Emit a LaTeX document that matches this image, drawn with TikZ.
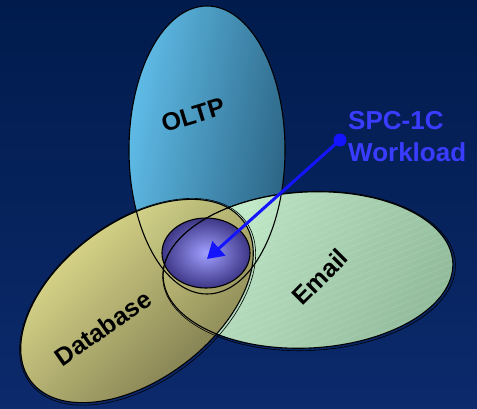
\documentclass[tikz,border=0pt]{standalone}
\usepackage{fontspec}
\setmainfont{Liberation Sans}
\usetikzlibrary{arrows.meta,patterns.meta}
\definecolor{bgtop}{RGB}{0,27,76}
\definecolor{bgbot}{RGB}{12,42,108}
\definecolor{oltpL}{RGB}{105,205,248}
\definecolor{oltpR}{RGB}{46,104,134}
\definecolor{mailL}{RGB}{212,250,212}
\definecolor{mailR}{RGB}{158,202,162}
\definecolor{dbL}{RGB}{245,240,150}
\definecolor{dbR}{RGB}{124,119,72}
\definecolor{sphIn}{RGB}{160,160,255}
\definecolor{sphOut}{RGB}{62,55,135}
\definecolor{arrowblue}{RGB}{20,20,255}
\definecolor{labelblue}{RGB}{58,60,255}
\tikzset{
  outline/.style={draw=black, line width=1.1pt},
  thinline/.style={draw=black, line width=0.6pt},
  lbl/.style={font=\fontsize{25}{30}\selectfont\bfseries, text=black, inner sep=0pt},
  spclbl/.style={font=\fontsize{26}{32}\selectfont\bfseries, text=labelblue, inner sep=0pt, anchor=base west},
  pointer/.style={draw=arrowblue, line width=3pt, -{Triangle[length=16pt,width=19pt]}},
  dotnode/.style={circle, fill=arrowblue, minimum size=13pt, inner sep=0pt},
}
\begin{document}
\begin{tikzpicture}[x=1pt,y=-1pt]
\shade[top color=bgtop,bottom color=bgbot] (0,0) rectangle (477,408);
\useasboundingbox (0,0) rectangle (477,408);
% OLTP fill
\shade[left color=oltpL,right color=oltpR,shading angle=80,fill opacity=0.92] (207,150) ellipse [x radius=78pt,y radius=144pt];
% Email fill
\begin{scope}[rotate around={3:(308,270)}]
\shade[top color=mailL,bottom color=mailR,shading angle=60,fill opacity=0.92] (308,270) ellipse [x radius=145pt,y radius=78pt];
\fill[pattern={Lines[angle=22,distance=6pt,line width=0.4pt]},pattern color=white,opacity=0.18] (308,270) ellipse [x radius=145pt,y radius=78pt];
\end{scope}
% Database fill
\begin{scope}[rotate around={37:(137,301)}]
\shade[top color=dbL,bottom color=dbR,shading angle=45,fill opacity=0.94] (137,301) ellipse [x radius=133pt,y radius=78.5pt];
\end{scope}
% sphere
\shade[inner color=sphIn,outer color=sphOut] (206,253) ellipse [x radius=44pt,y radius=35pt];
% outlines
\draw[outline] (207,150) ellipse [x radius=78pt,y radius=144pt];
\begin{scope}[rotate around={3:(308,270)}]
\draw[outline] (308,270) ellipse [x radius=145pt,y radius=78pt];
\draw[thinline] (309,271) ellipse [x radius=146.5pt,y radius=79.5pt];
\end{scope}
\begin{scope}[rotate around={37:(137,301)}]
\draw[outline] (137,301) ellipse [x radius=133pt,y radius=78.5pt];
\draw[thinline] (137,302) ellipse [x radius=134.8pt,y radius=80.3pt];
\end{scope}
\draw[outline] (206,253) ellipse [x radius=44pt,y radius=35pt];
% pointer
\node[dotnode] (dot) at (340,140) {};
\coordinate (tip) at (207,259);
\draw[pointer] (dot.center) -- (tip);
% labels
\node[lbl,rotate=17] (oltp) at (193,115) {OLTP};
\node[lbl,rotate=35] (db) at (103,328) {Database};
\node[lbl,rotate=45] (mail) at (320,277) {Email};
\node[spclbl] (spc1) at (348,129) {SPC-1C};
\node[spclbl] (spc2) at (348,161) {Workload};
\end{tikzpicture}
\end{document}
